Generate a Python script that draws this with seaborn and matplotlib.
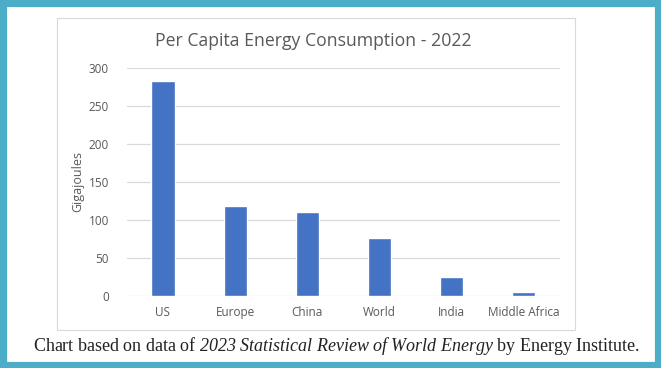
import matplotlib
matplotlib.use("Agg")
import matplotlib.pyplot as plt
import matplotlib.patches as patches
import pandas as pd
import seaborn as sns

regions = ["US", "Europe", "China", "World", "India", "Middle Africa"]
gigajoules = [283, 118, 111, 76, 25, 5]
yticks = [0, 50, 100, 150, 200, 250, 300]

sns.set_style("white")
plt.rcParams["font.family"] = ["Open Sans", "DejaVu Sans"]
plt.rcParams["mathtext.fontset"] = "custom"
plt.rcParams["mathtext.rm"] = "Liberation Serif:italic"
plt.rcParams["mathtext.it"] = "Liberation Serif:italic"

df = pd.DataFrame({"region": regions, "gj": gigajoules})

fig = plt.figure(figsize=(6.61, 3.68), dpi=100)
fig.patch.set_facecolor("white")

# outer light-blue border
fig.patches.append(patches.Rectangle((0, 0), 1, 1, transform=fig.transFigure,
                                     fill=False, edgecolor="#4BADC8", linewidth=9.5))
# chart frame
fig.patches.append(patches.Rectangle((0.086, 0.103), 0.784, 0.848, transform=fig.transFigure,
                                     fill=False, edgecolor="#D9D9D9", linewidth=0.8))

ax = fig.add_axes([0.192, 0.196, 0.655, 0.619])
sns.barplot(data=df, x="region", y="gj", color="#4472C4", width=0.32,
            saturation=1, ax=ax, zorder=3)
ax.set_ylim(0, 300)
ax.set_xlim(-0.5, 5.5)
ax.set_yticks(yticks)
ax.grid(axis="y", color="#D9D9D9", linewidth=0.9, zorder=0)
for s in ax.spines.values():
    s.set_visible(False)
ax.tick_params(axis="both", length=0, labelsize=8.5, labelcolor="#595959")
ax.tick_params(axis="y", pad=13)
ax.tick_params(axis="x", pad=7)
ax.set_xlabel("")
ax.set_ylabel("Gigajoules", fontsize=9, color="#595959", labelpad=3)

fig.text(0.474, 0.888, "Per Capita Energy Consumption - 2022", ha="center", va="center",
         fontsize=12.7, color="#595959")

fig.text(0.509, 0.06,
         r"Chart based on data of $\it{2023\ Statistical\ Review\ of\ World\ Energy}$ by Energy Institute.",
         ha="center", va="center", fontsize=13, color="#222222",
         family=["Liberation Serif", "DejaVu Serif"])

fig.savefig("out.png", dpi=100)
